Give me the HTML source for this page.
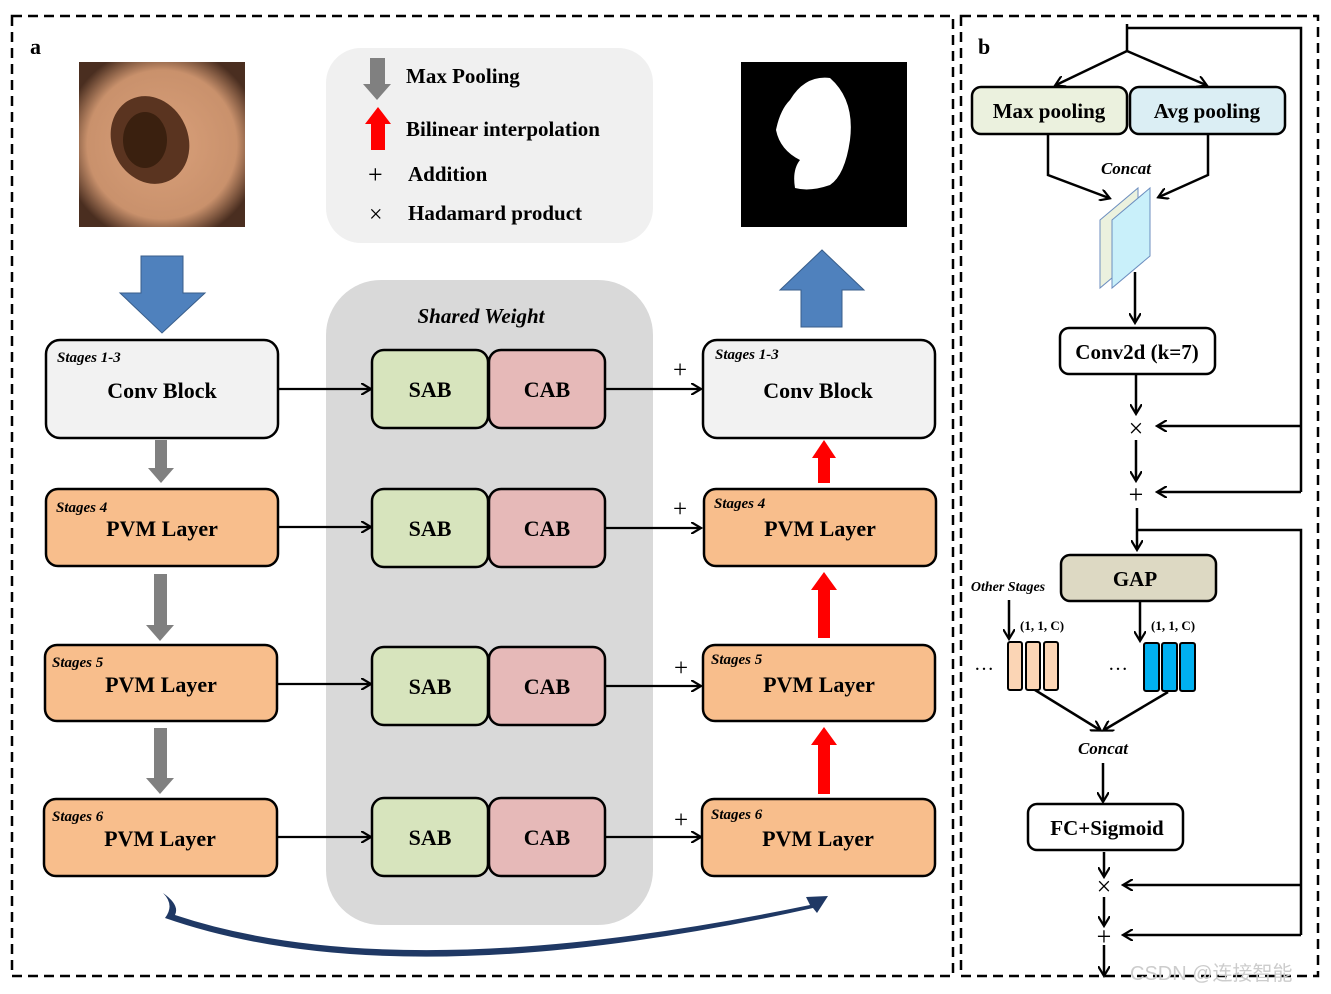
<!DOCTYPE html>
<html><head><meta charset="utf-8"><style>body{margin:0;background:#fff}svg{display:block}text{font-family:"Liberation Serif",serif;font-weight:bold}</style></head><body>
<svg width="1331" height="994" viewBox="0 0 1331 994">
<defs>
<marker id="a" markerWidth="12" markerHeight="12" refX="9" refY="6" orient="auto" markerUnits="userSpaceOnUse"><path d="M0,0 L10,6 L0,12" fill="none" stroke="#000" stroke-width="2.2"/></marker>
<radialGradient id="sk" cx="50%" cy="50%" r="60%"><stop offset="0" stop-color="#d9a07a"/><stop offset="0.75" stop-color="#c9916c"/><stop offset="1" stop-color="#4a2e20"/></radialGradient>
</defs>
<rect x="12" y="16" width="941" height="960" fill="none" stroke="#000" stroke-width="2.5" stroke-dasharray="10,6"/>
<rect x="961" y="16" width="357" height="960" fill="none" stroke="#000" stroke-width="2.5" stroke-dasharray="10,6"/>
<text x="30" y="54" font-size="22">a</text>
<text x="978" y="54" font-size="22">b</text>
<rect x="326" y="48" width="327" height="195" rx="35" fill="#f0f0f0"/>
<polygon points="370,58 385,58 385,84 391,84 377,100 363,84 370,84" fill="#808080"/>
<text x="406" y="83" font-size="21">Max Pooling</text>
<polygon points="371,150 385,150 385,124 391,124 378,107 365,124 371,124" fill="#f00"/>
<text x="406" y="136" font-size="21">Bilinear interpolation</text>
<text x="368" y="183" font-size="26" style="font-weight:normal">+</text>
<text x="408" y="181" font-size="21">Addition</text>
<text x="369" y="222" font-size="24" style="font-weight:normal">×</text>
<text x="408" y="220" font-size="21">Hadamard product</text>
<rect x="79" y="62" width="166" height="165" fill="url(#sk)"/>
<ellipse cx="150" cy="140" rx="38" ry="45" fill="#5a3420" transform="rotate(-25 150 140)"/>
<ellipse cx="145" cy="140" rx="22" ry="28" fill="#3a200f"/>
<rect x="741" y="62" width="166" height="165" fill="#000"/>
<path d="M790,100 Q805,75 830,78 Q855,100 850,140 Q845,175 830,185 Q810,192 795,188 Q792,170 800,160 Q780,150 776,130 Q780,110 790,100Z" fill="#fff"/>
<polygon points="141,256 183,256 183,293 205,293 162,333 120,293 141,293" fill="#4f81bd" stroke="#385d8a"/>
<polygon points="801,327 842,327 842,290 864,290 822,250 780,290 801,290" fill="#4f81bd" stroke="#385d8a"/>
<rect x="326" y="280" width="327" height="645" rx="55" fill="#d9d9d9"/>
<text x="481" y="323" font-size="21" font-style="italic" text-anchor="middle">Shared Weight</text>
<g stroke="#000" stroke-width="2.5">
<rect x="46" y="340" width="232" height="98" rx="14" fill="#f2f2f2"/>
<rect x="46" y="489" width="232" height="77" rx="12" fill="#f8be8c"/>
<rect x="45" y="645" width="232" height="76" rx="12" fill="#f8be8c"/>
<rect x="44" y="799" width="233" height="77" rx="12" fill="#f8be8c"/>
<rect x="703" y="340" width="232" height="98" rx="14" fill="#f2f2f2"/>
<rect x="704" y="489" width="232" height="77" rx="12" fill="#f8be8c"/>
<rect x="703" y="645" width="232" height="76" rx="12" fill="#f8be8c"/>
<rect x="702" y="799" width="233" height="77" rx="12" fill="#f8be8c"/>
<rect x="372" y="350" width="116" height="78" rx="12" fill="#d7e4bd"/><rect x="489" y="350" width="116" height="78" rx="12" fill="#e6b9b8"/>
<rect x="372" y="489" width="116" height="78" rx="12" fill="#d7e4bd"/><rect x="489" y="489" width="116" height="78" rx="12" fill="#e6b9b8"/>
<rect x="372" y="647" width="116" height="78" rx="12" fill="#d7e4bd"/><rect x="489" y="647" width="116" height="78" rx="12" fill="#e6b9b8"/>
<rect x="372" y="798" width="116" height="78" rx="12" fill="#d7e4bd"/><rect x="489" y="798" width="116" height="78" rx="12" fill="#e6b9b8"/>
</g>
<g font-size="22" text-anchor="middle">
<text x="162" y="398">Conv Block</text><text x="162" y="536">PVM Layer</text><text x="161" y="692">PVM Layer</text><text x="160" y="846">PVM Layer</text>
<text x="818" y="398">Conv Block</text><text x="820" y="536">PVM Layer</text><text x="819" y="692">PVM Layer</text><text x="818" y="846">PVM Layer</text>
<text x="430" y="397">SAB</text><text x="547" y="397">CAB</text>
<text x="430" y="536">SAB</text><text x="547" y="536">CAB</text>
<text x="430" y="694">SAB</text><text x="547" y="694">CAB</text>
<text x="430" y="845">SAB</text><text x="547" y="845">CAB</text>
</g>
<g font-size="15" font-style="italic">
<text x="57" y="362">Stages 1-3</text><text x="56" y="512">Stages 4</text><text x="52" y="667">Stages 5</text><text x="52" y="821">Stages 6</text>
<text x="715" y="359">Stages 1-3</text><text x="714" y="508">Stages 4</text><text x="711" y="664">Stages 5</text><text x="711" y="819">Stages 6</text>
</g>
<g stroke="#000" stroke-width="2.2" marker-end="url(#a)">
<line x1="278" y1="389" x2="370" y2="389"/><line x1="605" y1="389" x2="700" y2="389"/>
<line x1="278" y1="527" x2="370" y2="527"/><line x1="605" y1="528" x2="700" y2="528"/>
<line x1="277" y1="684" x2="370" y2="684"/><line x1="605" y1="686" x2="700" y2="686"/>
<line x1="277" y1="837" x2="370" y2="837"/><line x1="605" y1="837" x2="700" y2="837"/>
</g>
<g font-size="25"><text x="673" y="378" style="font-weight:normal">+</text><text x="673" y="517" style="font-weight:normal">+</text><text x="674" y="676" style="font-weight:normal">+</text><text x="674" y="828" style="font-weight:normal">+</text></g>
<g fill="#808080">
<polygon points="155,440 167,440 167,468 174,468 161,483 148,468 155,468"/>
<polygon points="154,574 167,574 167,625 174,625 160,641 146,625 154,625"/>
<polygon points="154,728 167,728 167,778 174,778 160,794 146,778 154,778"/>
</g>
<g fill="#f00">
<polygon points="818,483 830,483 830,458 836,458 824,440 812,458 818,458"/>
<polygon points="818,638 830,638 830,590 837,590 824,572 811,590 818,590"/>
<polygon points="818,794 830,794 830,745 837,745 824,727 811,745 818,745"/>
</g>
<path d="M163,893 Q180,905 175,915 Q400,990 810,905 L806,897 L828,896 L817,913 L813,908 Q400,1000 165,918 Q175,905 163,893Z" fill="#1f3864"/>
<g stroke="#000" stroke-width="2.5" fill="none">
<polyline points="1127,24 1127,51"/>
<polyline points="1127,28 1301,28 1301,492"/>
<line x1="1127" y1="51" x2="1056" y2="85" marker-end="url(#a)"/>
<line x1="1127" y1="51" x2="1206" y2="85" marker-end="url(#a)"/>
<polyline points="1048,135 1048,175 1109,198" marker-end="url(#a)"/>
<polyline points="1208,135 1208,175 1159,197" marker-end="url(#a)"/>
<line x1="1135" y1="272" x2="1135" y2="322" marker-end="url(#a)"/>
<line x1="1136" y1="375" x2="1136" y2="413" marker-end="url(#a)"/>
<line x1="1136" y1="440" x2="1136" y2="480" marker-end="url(#a)"/>
<line x1="1301" y1="426" x2="1158" y2="426" marker-end="url(#a)"/>
<line x1="1301" y1="492" x2="1158" y2="492" marker-end="url(#a)"/>
<line x1="1137" y1="508" x2="1137" y2="549" marker-end="url(#a)"/>
<polyline points="1137,530 1301,530 1301,935"/>
<line x1="1140" y1="602" x2="1140" y2="640" marker-end="url(#a)"/>
<line x1="1009" y1="600" x2="1009" y2="638" marker-end="url(#a)"/>
<line x1="1035" y1="690" x2="1100" y2="730" marker-end="url(#a)"/>
<line x1="1168" y1="692" x2="1104" y2="730" marker-end="url(#a)"/>
<line x1="1103" y1="763" x2="1103" y2="801" marker-end="url(#a)"/>
<line x1="1104" y1="852" x2="1104" y2="876" marker-end="url(#a)"/>
<line x1="1104" y1="897" x2="1104" y2="925" marker-end="url(#a)"/>
<line x1="1104" y1="945" x2="1104" y2="975" marker-end="url(#a)"/>
<line x1="1301" y1="885" x2="1124" y2="885" marker-end="url(#a)"/>
<line x1="1301" y1="935" x2="1124" y2="935" marker-end="url(#a)"/>
</g>
<g stroke="#000" stroke-width="2.5">
<rect x="972" y="87" width="155" height="47" rx="9" fill="#ebf1de"/>
<rect x="1130" y="87" width="155" height="47" rx="9" fill="#dbeef4"/>
<rect x="1060" y="328" width="155" height="46" rx="9" fill="#fff"/>
<rect x="1061" y="555" width="155" height="46" rx="9" fill="#ddd9c3"/>
<rect x="1028" y="804" width="155" height="46" rx="9" fill="#fff"/>
</g>
<polygon points="1100,220 1138,188 1138,256 1100,288" fill="#ebf1de" stroke="#6c8ebf"/>
<polygon points="1112,220 1150,188 1150,256 1112,288" fill="#c9f0fa" stroke="#6c8ebf"/>
<g stroke="#000" stroke-width="2"><rect x="1008" y="642" width="14" height="48" rx="2" fill="#fbd5b5"/><rect x="1026" y="642" width="14" height="48" rx="2" fill="#fbd5b5"/><rect x="1044" y="642" width="14" height="48" rx="2" fill="#fbd5b5"/>
<rect x="1144" y="643" width="15" height="48" rx="2" fill="#00b0f0"/><rect x="1162" y="643" width="15" height="48" rx="2" fill="#00b0f0"/><rect x="1180" y="643" width="15" height="48" rx="2" fill="#00b0f0"/></g>
<g font-size="21" text-anchor="middle">
<text x="1049" y="118">Max pooling</text><text x="1207" y="118">Avg pooling</text>
<text x="1137" y="359">Conv2d (k=7)</text><text x="1135" y="586">GAP</text><text x="1107" y="835">FC+Sigmoid</text>
</g>
<g font-style="italic" text-anchor="middle"><text x="1126" y="174" font-size="17">Concat</text><text x="1103" y="754" font-size="17">Concat</text><text x="1008" y="591" font-size="14">Other Stages</text></g>
<g font-size="13"><text x="1020" y="630">(1, 1, C)</text><text x="1151" y="630">(1, 1, C)</text></g>
<g font-size="20"><text x="974" y="670" style="font-weight:normal">…</text><text x="1108" y="670" style="font-weight:normal">…</text></g>
<g font-size="26" text-anchor="middle"><text x="1136" y="437" style="font-weight:normal">×</text><text x="1136" y="503" style="font-weight:normal">+</text>
<text x="1104" y="895" style="font-weight:normal">×</text><text x="1104" y="945" style="font-weight:normal">+</text></g>
<text x="1130" y="980" font-size="20" fill="#ccc" style="font-weight:normal;font-family:'Liberation Sans','Noto Sans CJK SC',sans-serif">CSDN @连接智能</text>
</svg>
</body></html>
